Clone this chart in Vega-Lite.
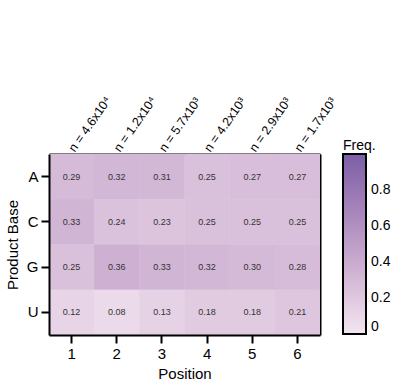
{
  "$schema": "https://vega.github.io/schema/vega-lite/v6.json",
  "autosize": "none",
  "padding": {"left": 49, "top": 154, "right": 80, "bottom": 57},
  "width": 271,
  "height": 181,
  "config": {
    "font": "Liberation Sans",
    "view": {"stroke": null},
    "axis": {"domain": true, "domainColor": "#000", "domainWidth": 2, "tickColor": "#000", "tickWidth": 2, "labelColor": "#000", "titleColor": "#000", "titleFontWeight": "normal", "grid": false},
    "scale": {"bandPaddingInner": 0, "bandPaddingOuter": 0}
  },
  "data": {"values": [
    {"base": "A", "pos": 1, "f": 0.29}, {"base": "A", "pos": 2, "f": 0.32}, {"base": "A", "pos": 3, "f": 0.31}, {"base": "A", "pos": 4, "f": 0.25}, {"base": "A", "pos": 5, "f": 0.27}, {"base": "A", "pos": 6, "f": 0.27},
    {"base": "C", "pos": 1, "f": 0.33}, {"base": "C", "pos": 2, "f": 0.24}, {"base": "C", "pos": 3, "f": 0.23}, {"base": "C", "pos": 4, "f": 0.25}, {"base": "C", "pos": 5, "f": 0.25}, {"base": "C", "pos": 6, "f": 0.25},
    {"base": "G", "pos": 1, "f": 0.25}, {"base": "G", "pos": 2, "f": 0.36}, {"base": "G", "pos": 3, "f": 0.33}, {"base": "G", "pos": 4, "f": 0.32}, {"base": "G", "pos": 5, "f": 0.30}, {"base": "G", "pos": 6, "f": 0.28},
    {"base": "U", "pos": 1, "f": 0.12}, {"base": "U", "pos": 2, "f": 0.08}, {"base": "U", "pos": 3, "f": 0.13}, {"base": "U", "pos": 4, "f": 0.18}, {"base": "U", "pos": 5, "f": 0.18}, {"base": "U", "pos": 6, "f": 0.21}
  ]},
  "resolve": {"axis": {"x": "independent", "y": "independent"}},
  "layer": [
    {
      "mark": {"type": "rect", "strokeWidth": 0},
      "encoding": {
        "x": {"field": "pos", "type": "ordinal", "title": "Position",
          "axis": {"orient": "bottom", "labelAngle": 0, "labelFontSize": 15, "titleFontSize": 15, "tickSize": 8, "labelPadding": 3, "titlePadding": 5}},
        "y": {"field": "base", "type": "ordinal", "sort": ["A", "C", "G", "U"], "title": "Product Base",
          "axis": {"orient": "left", "labelFontSize": 15, "titleFontSize": 15, "tickSize": 8, "labelPadding": 3, "titlePadding": 6}},
        "color": {"field": "f", "type": "quantitative", "title": "Freq.",
          "scale": {"domain": [0, 1], "range": ["#f3e6f1", "#7b5ea7"]},
          "legend": {"orient": "none", "legendX": 294, "legendY": -15, "direction": "vertical",
            "gradientLength": 180, "gradientThickness": 23, "gradientStrokeColor": "#000", "gradientStrokeWidth": 2,
            "values": [0, 0.2, 0.4, 0.6, 0.8], "format": ".1~f", "labelOverlap": false, "labelFontSize": 14, "labelColor": "#000", "labelOffset": 5,
            "titleFontSize": 14, "titleFontWeight": "normal", "titleColor": "#000", "titlePadding": 1}}
      }
    },
    {
      "mark": {"type": "rect", "strokeWidth": 0},
      "encoding": {
        "x": {"field": "pos", "type": "ordinal", "axis": null},
        "y": {"field": "base", "type": "ordinal", "sort": ["A", "C", "G", "U"], "axis": null},
        "color": {"field": "f", "type": "quantitative"}
      }
    },
    {
      "mark": {"type": "text", "fontSize": 9, "color": "#333"},
      "encoding": {
        "x": {"field": "pos", "type": "ordinal",
          "axis": {"orient": "top", "title": null, "ticks": false, "labelAngle": -55, "labelAlign": "left", "labelBaseline": "middle", "labelFontSize": 12.5, "labelPadding": 4,
            "labelExpr": "datum.value == 1 ? 'n = 4.6x10⁴' : datum.value == 2 ? 'n = 1.2x10⁴' : datum.value == 3 ? 'n = 5.7x10³' : datum.value == 4 ? 'n = 4.2x10³' : datum.value == 5 ? 'n = 2.9x10³' : 'n = 1.7x10³'"}},
        "y": {"field": "base", "type": "ordinal", "sort": ["A", "C", "G", "U"],
          "axis": {"orient": "right", "title": null, "ticks": false, "labels": false}},
        "text": {"field": "f", "type": "quantitative", "format": ".2f"}
      }
    }
  ]
}
